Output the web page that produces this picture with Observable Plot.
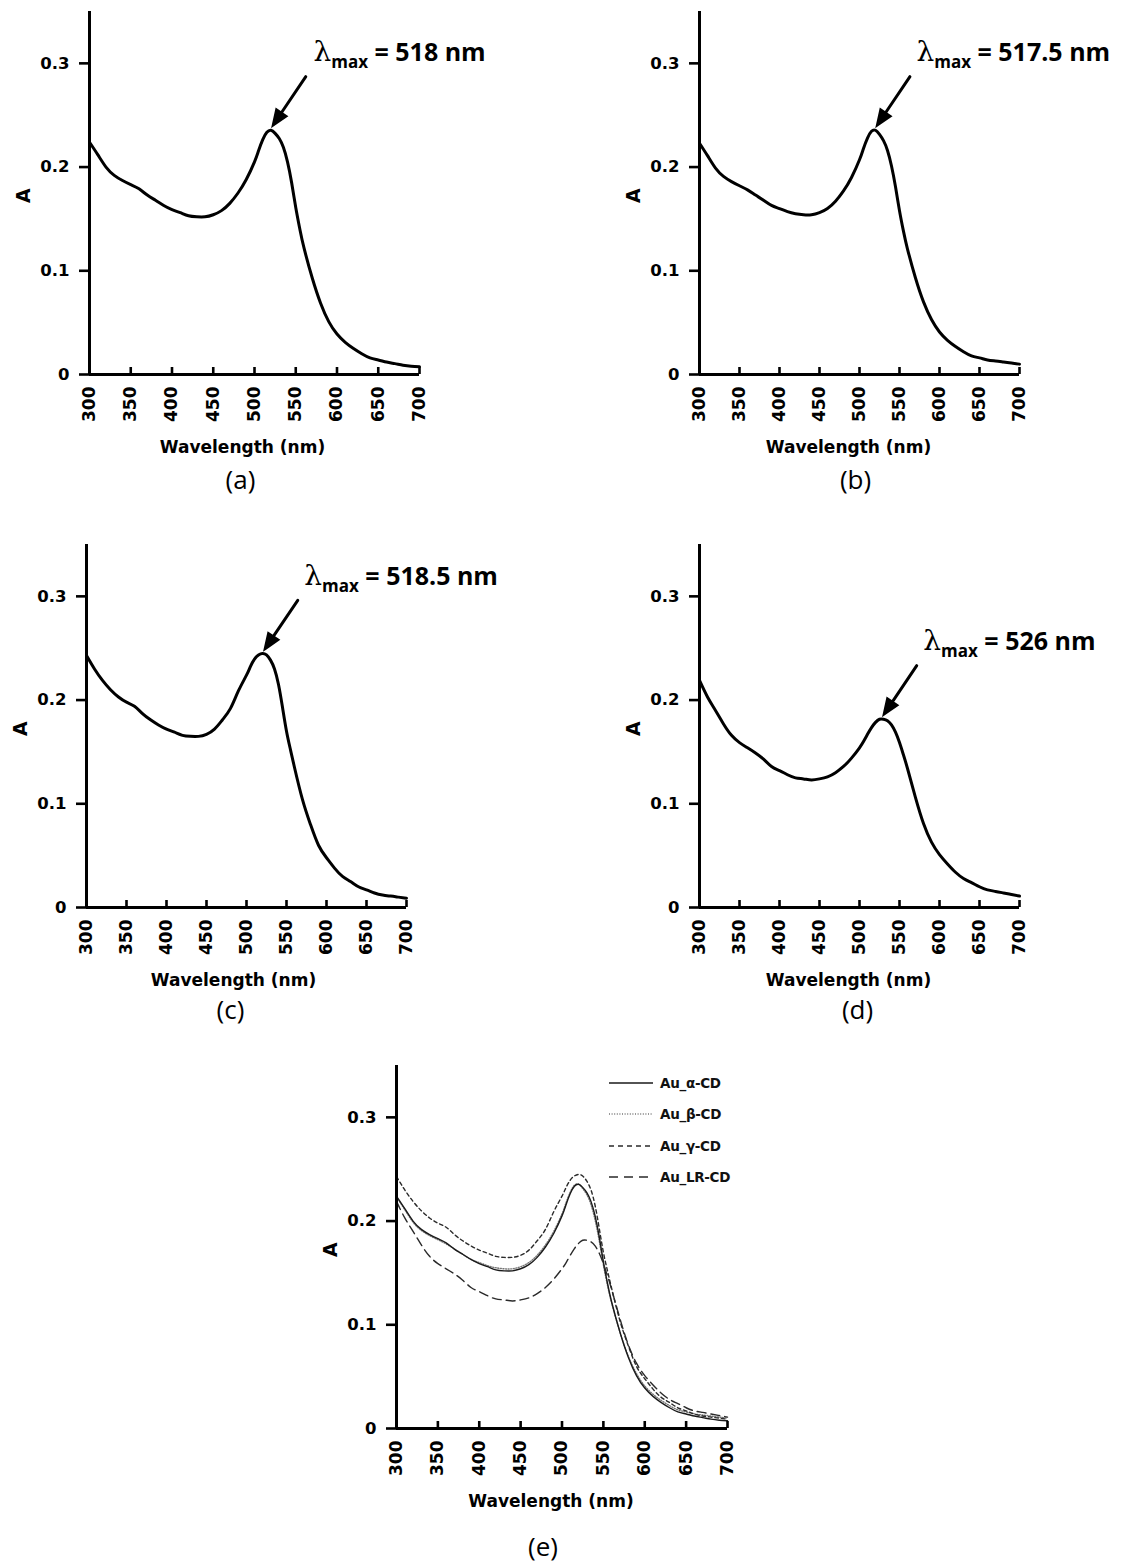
<!DOCTYPE html>
<html>
<head>
<meta charset="utf-8">
<script src="https://cdn.jsdelivr.net/npm/d3@7"></script>
<script src="https://cdn.jsdelivr.net/npm/@observablehq/plot@0.6"></script>
<style>
  body { margin: 0; background: #fff; }
  #root { position: relative; width: 1139px; height: 1568px; background: #fff; overflow: hidden; }
  #root > svg { position: absolute; overflow: visible; }
  #root .legend-row { position: absolute; display: flex; align-items: center; height: 20px;
    font-family: "DejaVu Sans", sans-serif; font-weight: bold; font-size: 13.5px; color: #111; letter-spacing: -0.3px; }
  #root .legend-row svg { position: static; margin-right: 7px; flex: none; }
</style>
</head>
<body>
<div id="root"></div>
<script>
// ---------------- data ----------------
const wavelength = [300,310,320,330,340,350,360,370,380,390,400,410,420,430,440,450,460,470,480,490,500,
  505,510,515,520,525,530,535,540,545,550,555,560,
  570,580,590,600,610,620,630,640,650,660,670,680,690,700];

const absAlpha = [0.224,0.212,0.200,0.192,0.187,0.183,0.179,0.173,0.168,0.163,0.159,0.156,0.153,0.152,0.152,0.154,0.158,0.165,0.175,0.188,0.205,
  0.216,0.2265,0.2335,0.2355,0.2325,0.2275,0.219,0.205,0.185,0.161,0.140,0.122,
  0.093,0.069,0.051,0.039,0.031,0.025,0.020,0.016,0.014,0.012,0.0105,0.009,0.008,0.0075];

const absBeta = [0.223,0.211,0.199,0.191,0.186,0.182,0.178,0.173,0.168,0.163,0.160,0.157,0.155,0.154,0.154,0.156,0.160,0.167,0.177,0.190,0.207,
  0.218,0.228,0.2345,0.2355,0.2315,0.2255,0.216,0.201,0.181,0.158,0.138,0.121,
  0.093,0.070,0.053,0.041,0.033,0.027,0.022,0.018,0.016,0.014,0.013,0.012,0.011,0.010];

const absGamma = [0.243,0.230,0.219,0.210,0.203,0.198,0.194,0.187,0.181,0.176,0.172,0.169,0.166,0.165,0.165,0.167,0.172,0.181,0.192,0.209,0.224,
  0.2325,0.2395,0.2435,0.245,0.2435,0.2385,0.230,0.215,0.193,0.170,0.152,0.135,
  0.104,0.080,0.060,0.048,0.038,0.030,0.025,0.020,0.017,0.014,0.012,0.011,0.010,0.009];

const absLR = [0.219,0.203,0.190,0.177,0.166,0.159,0.154,0.149,0.143,0.136,0.132,0.128,0.125,0.124,0.123,0.124,0.126,0.130,0.136,0.144,0.154,
  0.160,0.167,0.1735,0.1785,0.1815,0.1815,0.180,0.176,0.169,0.159,0.147,0.134,
  0.106,0.081,0.063,0.051,0.042,0.034,0.028,0.024,0.020,0.017,0.0155,0.014,0.0125,0.011];

const xTicks = [300,350,400,450,500,550,600,650,700];
const yTicks = [0,0.1,0.2,0.3];
const yTickLabels = ["0","0.1","0.2","0.3"];
const xLabel = "Wavelength (nm)";
const yLabel = "A";
const panelLetters = ["(a)","(b)","(c)","(d)","(e)"];
const lambdaMaxLabels = ["518","517.5","518.5","526"];
const lambdaMaxValues = [518, 517.5, 518.5, 526];
const peakValues = [0.236, 0.236, 0.245, 0.182];
const seriesNames = ["Au_α-CD","Au_β-CD","Au_γ-CD","Au_LR-CD"];
const seriesValues = [absAlpha, absBeta, absGamma, absLR];

// ---------------- layout / styles ----------------
const M = {left: 90, top: 10, right: 120, bottom: 130};
const plotH = 363;
const panels = [
  {axisX: 89,  yTop: 11,   plotW: 330, labelDx: -12, capDx: -14, capDy: 106},
  {axisX: 699, yTop: 11,   plotW: 320, labelDx: -11, capDx: -4,  capDy: 106},
  {axisX: 86,  yTop: 544,  plotW: 320, labelDx: -13, capDx: -16, capDy: 103},
  {axisX: 699, yTop: 544,  plotW: 320, labelDx: -11, capDx: -2,  capDy: 103},
  {axisX: 396, yTop: 1065, plotW: 331, labelDx: -11, capDx: -19, capDy: 119}
];
const eStyles = [
  {stroke: "#1a1a1a", dash: null,    legendDash: null,   width: 1.4},
  {stroke: "#777",    dash: "1,1.6", legendDash: "1,1.6", width: 1.4},
  {stroke: "#2a2a2a", dash: "3.5,3", legendDash: "5,4",  width: 1.4},
  {stroke: "#2a2a2a", dash: "9,5",   legendDash: "9,6",  width: 1.4}
];

// arrow with a filled triangular head (drawn pointing "up", Plot rotates it)
const filledArrow = {
  draw(context, l) {
    const h = 14, w = 5.5;
    context.moveTo(0, 0);
    context.lineTo(0, -l + h - 2);
    context.moveTo(0, -l);
    context.lineTo(-w, -l + h);
    context.lineTo(w, -l + h);
    context.closePath();
  }
};

const root = document.getElementById("root");
const rows = vals => wavelength.map((w, i) => ({w, a: vals[i]}));

function frameMarks(p, i) {
  return [
    Plot.ruleX([300], {strokeWidth: 3}),
    Plot.ruleY([0], {strokeWidth: 3}),
    Plot.ruleX(xTicks.slice(1), {x: d => d, y1: 0, y2: 0, insetTop: -7, strokeWidth: 2.6}),
    Plot.axisY({ticks: yTicks, tickFormat: d => yTickLabels[yTicks.indexOf(d)], tickSize: 10, tickPadding: 10,
      strokeWidth: 2.6, fontSize: 16.5, fontWeight: "bold", fontFamily: "DejaVu Sans", label: null}),
    Plot.axisX({ticks: xTicks, tickSize: 0, tickRotate: -90, tickPadding: 12, fontSize: 17,
      fontWeight: "bold", fontFamily: "DejaVu Sans", label: null}),
    Plot.text([yLabel], {frameAnchor: "left", text: d => d, rotate: -90, dx: -66, dy: 10,
      fontSize: 19, fontWeight: "bold", fontFamily: "DejaVu Sans"}),
    Plot.text([xLabel], {frameAnchor: "bottom", text: d => d, dx: p.labelDx, dy: 73, lineAnchor: "middle",
      fontSize: 17, fontWeight: "bold", fontFamily: "DejaVu Sans"}),
    Plot.text([panelLetters[i]], {frameAnchor: "bottom", text: d => d, dx: p.capDx, dy: p.capDy, lineAnchor: "middle",
      fontSize: 26, fontWeight: "normal", fontFamily: "Open Sans"})
  ];
}

panels.forEach((p, i) => {
  let marks = [];
  if (i < 4) {
    const peak = [{x: lambdaMaxValues[i], y: peakValues[i], label: lambdaMaxLabels[i]}];
    marks = [
      Plot.line(rows(seriesValues[i]), {x: "w", y: "a", curve: "natural", stroke: "#000",
        strokeWidth: 3, strokeLinejoin: "round", strokeLinecap: "round"}),
      Plot.vector(peak, {x: "x", y: "y", length: 58, rotate: 214, anchor: "end", shape: filledArrow,
        stroke: "#000", fill: "#000", strokeWidth: 3, strokeLinejoin: "miter", dx: 4, dy: -5}),
      Plot.text(peak, {x: d => d.x + 45, y: d => d.y + 0.05, text: d => "λmax = " + d.label + " nm",
        textAnchor: "start", lineAnchor: "bottom", dx: 7, dy: -17, fontSize: 25,
        fontWeight: "bold", fontFamily: "Open Sans", fill: "#000"})
    ];
  } else {
    marks = [1, 0, 2, 3].map(k => Plot.line(rows(seriesValues[k]), {x: "w", y: "a", curve: "natural",
      stroke: eStyles[k].stroke, strokeWidth: eStyles[k].width, strokeDasharray: eStyles[k].dash}));
  }
  const svg = Plot.plot({
    width: M.left + p.plotW + M.right,
    height: M.top + plotH + M.bottom,
    marginLeft: M.left, marginTop: M.top, marginRight: M.right, marginBottom: M.bottom,
    x: {domain: [300, 700]},
    y: {domain: [0, 0.35]},
    style: {background: "transparent", color: "#000", fontFamily: "DejaVu Sans", overflow: "visible"},
    marks: [...marks, ...frameMarks(p, i)]
  });
  svg.style.left = (p.axisX - M.left) + "px";
  svg.style.top = (p.yTop - M.top) + "px";

  // subscript formatting of λmax annotations
  const ns = "http://www.w3.org/2000/svg";
  for (const t of svg.querySelectorAll("text")) {
    const s = t.textContent;
    if (!s.startsWith("λmax")) continue;
    const rest = s.slice(4);
    t.textContent = "";
    const t1 = document.createElementNS(ns, "tspan");
    t1.textContent = "λ";
    t1.setAttribute("font-family", "DejaVu Serif");
    t1.setAttribute("font-weight", "normal");
    t1.setAttribute("font-size", "28");
    const t2 = document.createElementNS(ns, "tspan");
    t2.textContent = "max";
    t2.setAttribute("font-size", "17");
    t2.setAttribute("dy", "7");
    const t3 = document.createElementNS(ns, "tspan");
    t3.textContent = rest;
    t3.setAttribute("dy", "-7");
    t.append(t1, t2, t3);
  }
  root.appendChild(svg);
});

// legend for panel (e)
seriesNames.forEach((name, k) => {
  const row = document.createElement("div");
  row.className = "legend-row";
  row.style.left = "609px";
  row.style.top = (1073 + k * 31.3) + "px";
  const st = eStyles[k];
  row.innerHTML = `<svg width="44" height="20"><line x1="0" x2="44" y1="10" y2="10" stroke="${st.stroke}" stroke-width="${st.width}" ${st.legendDash ? `stroke-dasharray="${st.legendDash}"` : ""}/></svg><span>${name}</span>`;
  root.appendChild(row);
});
</script>
</body>
</html>
